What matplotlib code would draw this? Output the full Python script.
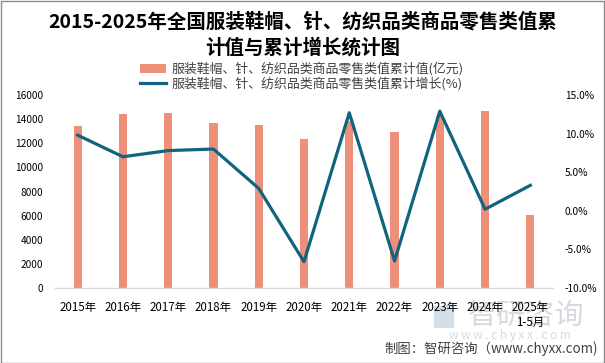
import matplotlib
matplotlib.use("Agg")
import matplotlib.pyplot as plt
from matplotlib.patches import Rectangle, Patch
from matplotlib.lines import Line2D
from matplotlib.ticker import FuncFormatter, MultipleLocator

plt.rcParams['font.family'] = ['Noto Sans CJK SC', 'DejaVu Sans']

categories = ["2015年", "2016年", "2017年", "2018年", "2019年", "2020年",
              "2021年", "2022年", "2023年", "2024年", "2025年\n1-5月"]
retail_value = [13400, 14400, 14500, 13700, 13500, 12365, 13842, 12900, 14300, 14700, 6055]
growth_pct = [9.8, 7.0, 7.8, 8.0, 2.9, -6.6, 12.7, -6.5, 12.9, 0.2, 3.3]

bar_label = "服装鞋帽、针、纺织品类商品零售类值累计值(亿元)"
line_label = "服装鞋帽、针、纺织品类商品零售类值累计增长(%)"
title1 = "2015-2025年全国服装鞋帽、针、纺织品类商品零售类值累"
title2 = "计值与累计增长统计图"

bar_color = "#EE9079"
line_color = "#11637F"
text_gray = "#404040"

W, H = 605, 363
fig = plt.figure(figsize=(W / 100, H / 100), dpi=100)

x = list(range(len(categories)))
ax = fig.add_axes([55 / W, (H - 288) / H, (553 - 55) / W, (288 - 95) / H])
ax.set_facecolor('none')
ax.bar(x, retail_value, width=0.18, color=bar_color, zorder=2)
ax.set_xlim(-0.5, len(categories) - 0.5)
ax.set_ylim(0, 16000)
ax.yaxis.set_major_locator(MultipleLocator(2000))
ax.set_xticks(x)
ax.set_xticklabels(categories, fontsize=8.3, color="#000000")
for lbl in ax.get_xticklabels():
    lbl.set_linespacing(1.25)
for s in ['top', 'right', 'left']:
    ax.spines[s].set_visible(False)
ax.spines['bottom'].set_color('#D9D9D9')
ax.spines['bottom'].set_linewidth(1.0)
ax.tick_params(axis='x', length=0, pad=9)
ax.tick_params(axis='y', length=0, pad=8.5, labelsize=7.3, labelcolor="#000000")

ax2 = ax.twinx()
ax2.plot(x, growth_pct, color=line_color, linewidth=2.3, zorder=3, solid_joinstyle='round')
ax2.set_ylim(-10, 15)
ax2.yaxis.set_major_locator(MultipleLocator(5))
ax2.yaxis.set_major_formatter(FuncFormatter(lambda v, p: f"{v:.1f}%"))
for s in ['top', 'right', 'left', 'bottom']:
    ax2.spines[s].set_visible(False)
ax2.tick_params(axis='y', length=0, pad=8.5, labelsize=7.3, labelcolor="#000000")

# Title
fig.text(303 / W, 1 - 21.7 / H, title1, ha='center', va='center',
         fontsize=14, fontweight='bold', color='#000000')
fig.text(303 / W, 1 - 47.7 / H, title2, ha='center', va='center',
         fontsize=14, fontweight='bold', color='#000000')

# Legend
handles = [Patch(facecolor=bar_color, edgecolor='none'),
           Line2D([0], [0], color=line_color, linewidth=2.3)]
leg = fig.legend(handles, [bar_label, line_label], loc='center',
                 bbox_to_anchor=(302 / W, 1 - 76 / H), frameon=False,
                 fontsize=9.3, handlelength=2.0, handletextpad=0.4,
                 labelspacing=0.05, borderpad=0)
for t in leg.get_texts():
    t.set_color(text_gray)

# Watermark
fig.text(468 / W, 1 - 316 / H, "智研咨询", ha='left', va='center',
         fontsize=21, color='#D6DADE', zorder=-1)
fig.text(510 / W, 1 - 336 / H, "w w w . c h y x x . c o m", ha='center', va='center',
         fontsize=8.5, color='#D6DADE', zorder=-1)
fig.patches.append(Rectangle((434 / W, 1 - 328 / H), 20 / W, 22 / H,
                             transform=fig.transFigure, facecolor='#D2DEEA',
                             edgecolor='none', zorder=-2))

# Footer
fig.text(598 / W, 1 - 349 / H, "制图：智研咨询（www.chyxx.com)", ha='right', va='center',
         fontsize=9.6, color=text_gray)

# Figure border
fig.patches.append(Rectangle((0.5 / W, 0.5 / H), 1 - 1.5 / W, 1 - 1.5 / H,
                             transform=fig.transFigure, facecolor='none',
                             edgecolor='#8C8C8C', linewidth=1.0, zorder=10))

fig.savefig("out.png", dpi=100)
